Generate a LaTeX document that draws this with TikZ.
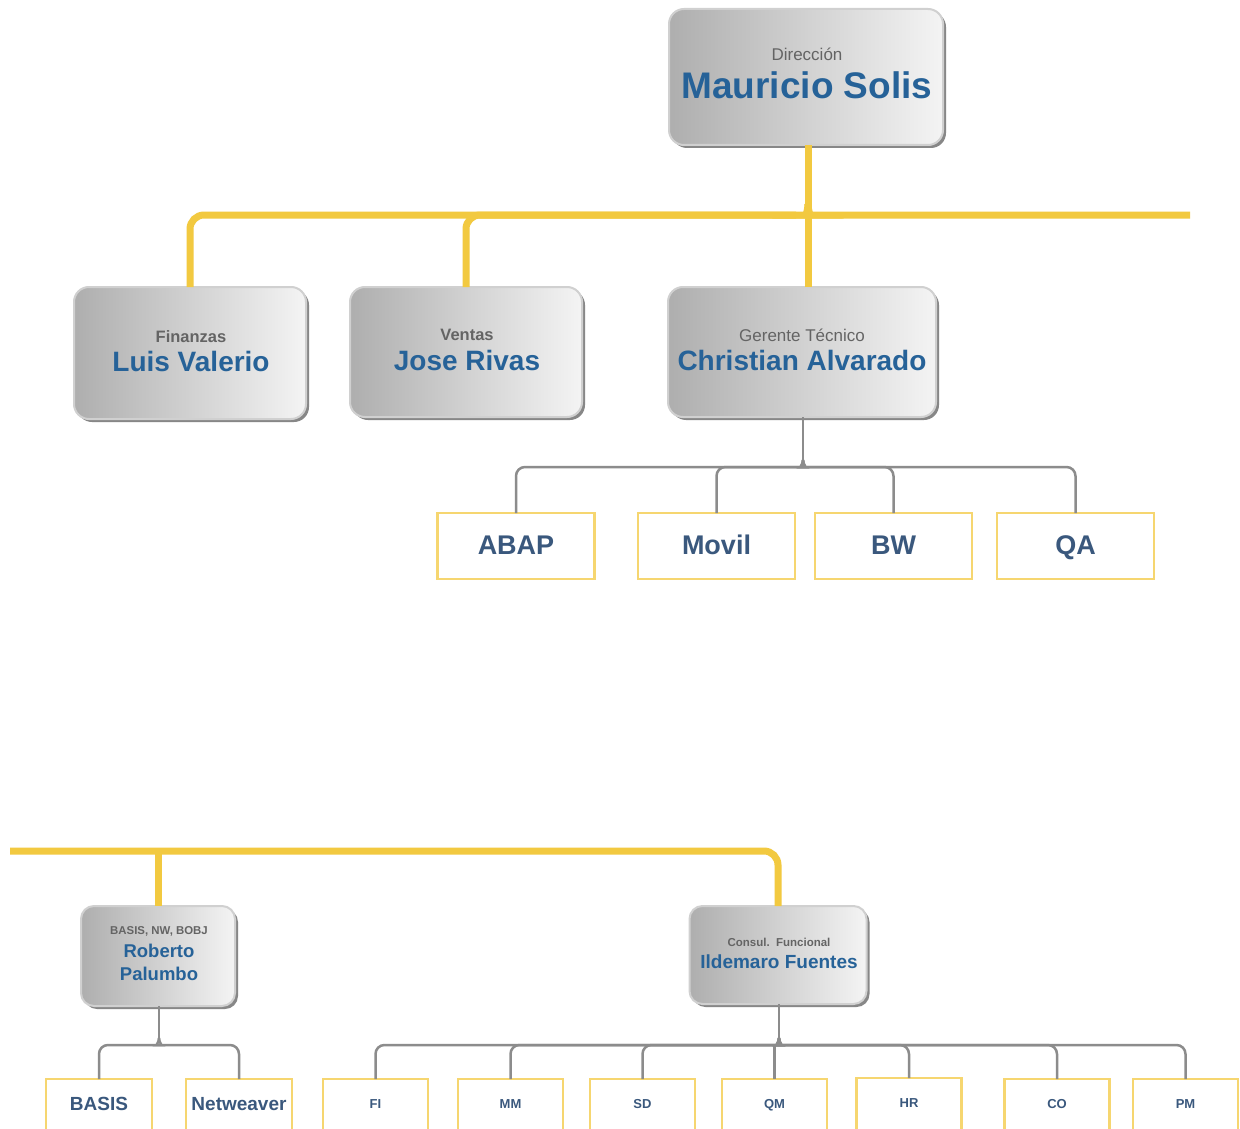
\documentclass[tikz,border=0pt]{standalone}
\usepackage{fontspec}
\setmainfont{Liberation Sans}
\usetikzlibrary{calc}

\definecolor{linkyellow}{RGB}{242,201,64}
\definecolor{boxyellow}{RGB}{246,214,112}
\definecolor{linkgray}{RGB}{140,140,140}
\definecolor{nameblue}{RGB}{38,98,152}
\definecolor{rolegray}{RGB}{100,100,100}
\definecolor{unitblue}{RGB}{58,88,125}
\definecolor{boxdark}{RGB}{174,174,174}
\definecolor{boxlight}{RGB}{244,244,244}
\definecolor{boxrim}{RGB}{208,208,208}
\definecolor{boxshade}{RGB}{135,135,135}

% junction bumps: a branch curves up into the vertical stem
\newcommand\joinfromleft[2]{%
  \draw[glink] (#1.north) |- ($(#2)+(-10,0)$) [sharp corners] .. controls ($(#2)+(-4,0)$) and ($(#2)+(0,-2)$) .. ($(#2)+(0,-7)$);}
\newcommand\joinfromright[2]{%
  \draw[glink] (#1.north) |- ($(#2)+(10,0)$) [sharp corners] .. controls ($(#2)+(4,0)$) and ($(#2)+(0,-2)$) .. ($(#2)+(0,-7)$);}

\tikzset{
  mgrbox/.style={rounded corners=15pt, draw=boxrim, line width=2pt,
    left color=boxdark, right color=boxlight, inner sep=0pt, outer sep=0pt,
    preaction={fill=boxshade, transform canvas={xshift=3pt, yshift=-3pt}}},
  unitbox/.style={draw=boxyellow, line width=2.5pt, fill=white, inner sep=0pt, outer sep=0pt,
    text=unitblue},
  roletext/.style={inner sep=0pt, text=rolegray},
  persontext/.style={inner sep=0pt, text=nameblue, font=\bfseries\fontsize{28}{28}\selectfont},
  ylink/.style={draw=linkyellow, line width=7pt, rounded corners=14pt},
  glink/.style={draw=linkgray, line width=2.5pt, rounded corners=9pt},
}

\begin{document}
\begin{tikzpicture}[x=1pt,y=-1pt]
\path[use as bounding box, clip] (0,0) rectangle (1240,1129);
\fill[white] (0,0) rectangle (1240,1129);

% ---------- management boxes ----------
\node[mgrbox, minimum width=274pt, minimum height=136pt] (ms) at (806,77) {};
\node[roletext, font=\fontsize{17}{17}\selectfont] (msr) at (807,54) {Dirección};
\node[persontext, font=\bfseries\fontsize{37}{37}\selectfont] (msn) at (807,85) {Mauricio Solis};

\node[mgrbox, minimum width=232pt, minimum height=132pt] (lv) at (190,353) {};
\node[roletext, font=\bfseries\fontsize{16.5}{16.5}\selectfont] (lvr) at (191,337) {Finanzas};
\node[persontext] (lvn) at (191,361) {Luis Valerio};

\node[mgrbox, minimum width=232pt, minimum height=130pt] (jr) at (466,352) {};
\node[roletext, font=\bfseries\fontsize{16.5}{16.5}\selectfont] (jrr) at (467,335) {Ventas};
\node[persontext] (jrn) at (467,360) {Jose Rivas};

\node[mgrbox, minimum width=268pt, minimum height=130pt] (ca) at (802,352) {};
\node[roletext, font=\fontsize{17}{17}\selectfont] (car) at (802,335) {Gerente Técnico};
\node[persontext] (can) at (802,360) {Christian Alvarado};

\node[mgrbox, minimum width=154pt, minimum height=100pt, rounded corners=13pt] (rp) at (158,956) {};
\node[roletext, font=\bfseries\fontsize{11.4}{11.4}\selectfont] (rpr) at (159,931) {BASIS, NW, BOBJ};
\node[persontext, font=\bfseries\fontsize{18.5}{18.5}\selectfont] (rpn1) at (159,951) {Roberto};
\node[persontext, font=\bfseries\fontsize{18.5}{18.5}\selectfont] (rpn2) at (159,974) {Palumbo};

\node[mgrbox, minimum width=177pt, minimum height=98pt, rounded corners=13pt] (ifu) at (778,955) {};
\node[roletext, font=\bfseries\fontsize{11.5}{11.5}\selectfont] (ifr) at (779,942) {Consul.\ \ Funcional};
\node[persontext, font=\bfseries\fontsize{19}{19}\selectfont] (ifn) at (779,962) {Ildemaro Fuentes};

% ---------- technical units ----------
\begin{scope}[every node/.style={unitbox, minimum width=157pt, minimum height=66pt,
    text height=19.5pt, text depth=2pt, font=\bfseries\fontsize{27}{27}\selectfont}]
  \node (abap) at (516,546) {ABAP};
  \node (movil) at (716.5,546) {Movil};
  \node (bw) at (893.5,546) {BW};
  \node (qa) at (1075.5,546) {QA};
\end{scope}

% ---------- basis units ----------
\begin{scope}[every node/.style={unitbox, minimum width=106pt, minimum height=61pt,
    text height=13.7pt, text depth=11pt, font=\bfseries\fontsize{19}{19}\selectfont}]
  \node (basis) at (99,1109.5) {BASIS};
  \node (netw) at (239,1109.5) {Netweaver};
\end{scope}

% ---------- functional modules ----------
\begin{scope}[every node/.style={unitbox, minimum width=105pt, minimum height=61pt,
    text height=9.4pt, text depth=11pt, font=\bfseries\fontsize{13}{13}\selectfont}]
  \node (fi) at (375.5,1109.5) {FI};
  \node (mm) at (510.5,1109.5) {MM};
  \node (sd) at (642.5,1109.5) {SD};
  \node (qm) at (774.5,1109.5) {QM};
  \node (hr) at (909,1108.5) {HR};
  \node (co) at (1057,1109.5) {CO};
  \node (pm) at (1185.5,1109.5) {PM};
\end{scope}

% ---------- yellow reporting lines, top ----------
\coordinate (yj) at (808,215);
\coordinate (yr) at (1190,215);
\draw[ylink] (ms.south -| yj) -- (ca.north -| yj);
\draw[ylink] (lv.north) |- ($(yj)+(-12,0)$) [sharp corners] .. controls ($(yj)+(-4,0)$) and ($(yj)+(0,-3)$) .. ($(yj)+(0,-11)$);
\draw[ylink] (jr.north) |- ($(yj)+(-12,0)$);
\draw[ylink] ($(yj)+(0,-11)$) .. controls ($(yj)+(0,-3)$) and ($(yj)+(4,0)$) .. ($(yj)+(12,0)$) -- (yr);

% ---------- yellow reporting lines, bottom ----------
\coordinate (yl) at (10,851);
\draw[ylink] (yl) -| (ifu.north);
\draw[ylink] (rp.north) -- (rp.north |- yl);

% ---------- gray lines: technical manager ----------
\coordinate (gj) at (803,467);
\draw[glink] (ca.south -| gj) -- ($(gj)+(0,-7)$);
\joinfromleft{abap}{gj}
\joinfromleft{movil}{gj}
\joinfromright{bw}{gj}
\joinfromright{qa}{gj}

% ---------- gray lines: basis ----------
\coordinate (gb) at (159,1045);
\draw[glink] (rp.south -| gb) -- ($(gb)+(0,-7)$);
\joinfromleft{basis}{gb}
\joinfromright{netw}{gb}

% ---------- gray lines: functional ----------
\coordinate (gf) at (779,1045);
\draw[glink] (ifu.south -| gf) -- ($(gf)+(0,-7)$);
\joinfromleft{fi}{gf}
\joinfromleft{mm}{gf}
\joinfromleft{sd}{gf}
\draw[glink] (qm.north) -- (qm.north |- gf);
\joinfromright{hr}{gf}
\joinfromright{co}{gf}
\joinfromright{pm}{gf}
\end{tikzpicture}
\end{document}
